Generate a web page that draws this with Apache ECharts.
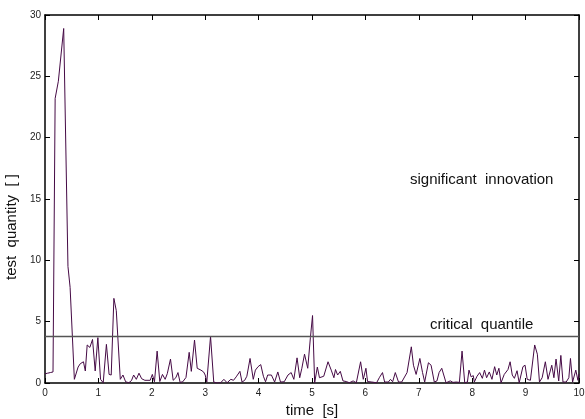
<!DOCTYPE html>
<html>
<head>
<meta charset="utf-8">
<script src="https://cdn.jsdelivr.net/npm/echarts@6/dist/echarts.min.js"></script>
<style>
  html, body { margin: 0; padding: 0; background: #fff; }
  #chart { width: 585px; height: 419px; }
</style>
</head>
<body>
<div id="chart"></div>
<script>
// test quantity over time
const times = [
  0, 0.05, 0.1, 0.15, 0.19, 0.25, 0.35, 0.43, 0.47, 0.55,
  0.62, 0.66, 0.72, 0.755, 0.79, 0.84, 0.89, 0.94, 0.99, 1.04,
  1.09, 1.15, 1.2, 1.24, 1.29, 1.335, 1.41, 1.46, 1.51, 1.57,
  1.62, 1.66, 1.71, 1.76, 1.81, 1.87, 1.97, 2.01, 2.05, 2.1,
  2.15, 2.2, 2.25, 2.29, 2.35, 2.4, 2.45, 2.49, 2.53, 2.58,
  2.64, 2.7, 2.74, 2.8, 2.85, 2.92, 2.97, 3.0, 3.03, 3.1,
  3.16, 3.22, 3.29, 3.35, 3.41, 3.48, 3.53, 3.58, 3.65, 3.69,
  3.74, 3.78, 3.84, 3.9, 3.94, 3.99, 4.04, 4.09, 4.13, 4.17,
  4.24, 4.3, 4.36, 4.41, 4.48, 4.55, 4.61, 4.66, 4.72, 4.77,
  4.81, 4.86, 4.92, 4.97, 5.01, 5.05, 5.1, 5.14, 5.22, 5.3,
  5.36, 5.41, 5.44, 5.48, 5.53, 5.58, 5.64, 5.7, 5.77, 5.83,
  5.91, 5.96, 6.01, 6.04, 6.12, 6.21, 6.26, 6.32, 6.36, 6.43,
  6.47, 6.51, 6.56, 6.62, 6.68, 6.78, 6.86, 6.9, 6.95, 7.02,
  7.07, 7.11, 7.18, 7.23, 7.29, 7.34, 7.38, 7.43, 7.46, 7.51,
  7.59, 7.64, 7.7, 7.76, 7.81, 7.86, 7.91, 7.94, 7.98, 8.02,
  8.04, 8.09, 8.14, 8.19, 8.23, 8.27, 8.32, 8.37, 8.42, 8.46,
  8.5, 8.54, 8.6, 8.67, 8.71, 8.75, 8.79, 8.84, 8.88, 8.95,
  8.99, 9.03, 9.09, 9.17, 9.22, 9.26, 9.31, 9.37, 9.42, 9.49,
  9.53, 9.57, 9.62, 9.66, 9.7, 9.76, 9.81, 9.84, 9.88, 9.94,
  9.98, 10
];
const values = [
  0.75, 0.8, 0.85, 0.9, 23.2, 24.6, 28.9, 9.5, 7.8, 0.3,
  1.3, 1.57, 1.73, 0.98, 3.1, 2.9, 3.55, 0.98, 3.7, 0.3,
  0.02, 3.15, 0.7, 0.65, 6.9, 5.9, 0.3, 0.65, 0.1, 0.02,
  0.2, 0.65, 0.3, 0.8, 0.35, 0.22, 0.22, 0.7, 0.1, 2.6,
  0.12, 0.7, 0.3, 0.76, 1.95, 0.22, 0.43, 0.85, 0.05, 0.1,
  0.45, 2.5, 0.95, 3.5, 1.2, 1.05, 0.9, 0.65, 0.08, 3.8,
  0.08, 0, 0.02, 0.3, 0.02, 0.3, 0.22, 0.5, 0.95, 0.08,
  0.22, 0.55, 2.0, 0.3, 1.05, 1.33, 1.5, 0.55, 0.1, 0.65,
  0.65, 0.08, 0.9, 0.08, 0.1, 0.65, 0.85, 0.3, 2.05, 0.43,
  1.2, 2.35, 1.2, 3.7, 5.5, 0.02, 1.3, 0.43, 0.55, 1.73,
  1.05, 0.43, 1.1, 0.65, 0.95, 0.17, 0.12, 0.02, 0.17, 0.02,
  1.73, 0.3, 1.2, 0.12, 0.08, 0.02, 0.43, 0.85, 0.08, 0.08,
  0.3, 0.1, 0.85, 0.08, 0.08, 0.85, 2.95, 1.45, 0.7, 2.0,
  0.85, 0.08, 1.65, 1.45, 0.08, 0.17, 0.85, 1.2, 1.05, 0.02,
  0.17, 0.05, 0.08, 0.05, 2.6, 0.02, 0.08, 1.05, 0.5, 0.6,
  0.08, 0.55, 0.85, 0.38, 1.05, 0.43, 0.9, 0.3, 1.33, 0.65,
  1.2, 0.02, 0.7, 1.1, 1.73, 0.65, 0.38, 1.0, 0.02, 1.33,
  1.45, 0.3, 0.22, 3.1, 2.35, 0.08, 0.43, 1.73, 0.3, 1.45,
  0.43, 1.95, 0.17, 2.25, 0.08, 0.08, 0.43, 2.0, 0.08, 1.05,
  0.22, 0.75
];
const criticalQuantile = 3.84;
const xTicks = [0, 1, 2, 3, 4, 5, 6, 7, 8, 9, 10];
const yTicks = [0, 5, 10, 15, 20, 25, 30];

const seriesData = times.map((t, i) => [t, values[i]]);

const font = 'Liberation Sans, Arial, sans-serif';
const frame = { show: true, onZero: false, lineStyle: { color: '#000', width: 1.5 } };
const inTicks = { show: true, inside: true, length: 5, lineStyle: { color: '#000', width: 1 } };

let chart = echarts.init(document.getElementById('chart'), null, { renderer: 'canvas' });
chart.setOption({
  animation: false,
  backgroundColor: '#fff',
  grid: { left: 45, right: 6, top: 15, bottom: 36, containLabel: false, outerBoundsMode: 'none' },
  xAxis: [
    {
      type: 'value', min: 0, max: 10, interval: 1,
      axisLine: frame, axisTick: inTicks, splitLine: { show: false },
      axisLabel: { color: '#222', fontSize: 10, fontFamily: font, margin: 5,
        formatter: v => xTicks.indexOf(v) >= 0 ? String(v) : '' },
      name: 'time  [s]', nameLocation: 'middle', nameGap: 20,
      nameTextStyle: { color: '#111', fontSize: 15, fontFamily: font }
    },
    {
      type: 'value', min: 0, max: 10, interval: 1, position: 'top',
      axisLine: frame, axisTick: inTicks, axisLabel: { show: false }, splitLine: { show: false }
    }
  ],
  yAxis: [
    {
      type: 'value', min: 0, max: 30, interval: 5,
      axisLine: frame, axisTick: inTicks, splitLine: { show: false },
      axisLabel: { color: '#222', fontSize: 10, fontFamily: font, margin: 4,
        formatter: v => yTicks.indexOf(v) >= 0 ? String(v) : '' },
      name: 'test  quantity  [ ]', nameLocation: 'middle', nameGap: 23,
      nameTextStyle: { color: '#111', fontSize: 15, fontFamily: font, padding: [0, 56, 0, 0] }
    },
    {
      type: 'value', min: 0, max: 30, interval: 5, position: 'right',
      axisLine: frame, axisTick: inTicks, axisLabel: { show: false }, splitLine: { show: false }
    }
  ],
  series: [
    {
      type: 'line',
      data: seriesData,
      showSymbol: false,
      lineStyle: { color: '#450a45', width: 1 },
      markLine: {
        silent: true, symbol: 'none', animation: false,
        lineStyle: { color: '#555', width: 1.3, type: 'solid' },
        label: { show: false },
        data: [{ yAxis: criticalQuantile }]
      }
    }
  ],
  graphic: [
    { type: 'text', left: 410, top: 172,
      style: { text: 'significant  innovation', fill: '#111', fontSize: 15, fontFamily: font } },
    { type: 'text', left: 430, top: 317,
      style: { text: 'critical  quantile', fill: '#111', fontSize: 15, fontFamily: font } }
  ]
});
</script>
</body>
</html>
